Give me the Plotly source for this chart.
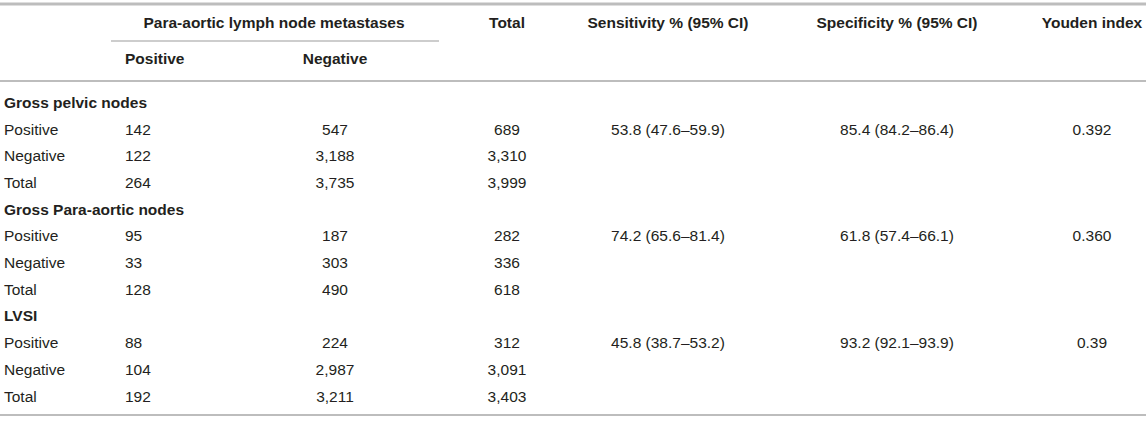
import plotly.graph_objects as go

# table contents
groups = ["Gross pelvic nodes", "Gross Para-aortic nodes", "LVSI"]
row_labels = ["Positive", "Negative", "Total"]
pos_counts = [[142, 122, 264], [95, 33, 128], [88, 104, 192]]
neg_counts = [[547, 3188, 3735], [187, 303, 490], [224, 2987, 3211]]
totals = [[689, 3310, 3999], [282, 336, 618], [312, 3091, 3403]]
sensitivity = ["53.8 (47.6–59.9)", "74.2 (65.6–81.4)", "45.8 (38.7–53.2)"]
specificity = ["85.4 (84.2–86.4)", "61.8 (57.4–66.1)", "93.2 (92.1–93.9)"]
youden = ["0.392", "0.360", "0.39"]

span_header = "Para-aortic lymph node metastases"
top_headers = ["Total", "Sensitivity % (95% CI)", "Specificity % (95% CI)", "Youden index"]
sub_headers = ["Positive", "Negative"]

W, H = 1146, 421
FONT = "Liberation Sans, Arial, Helvetica, sans-serif"
SIZE = 15.5
TXT = "#231f20"
LINE = "#bdbdbd"

# column anchors in pixels
col_label = 4
col_pos = 125
col_neg = 335
col_tot = 507
col_sens = 668
col_spec = 897
col_youd = 1092
span_mid = 274

# row positions
y_head1 = 24
y_head2 = 60
y_first = 104
pitch = 26.7

fig = go.Figure()


def add_text(xs, ys, texts, pos, bold=False):
    if bold:
        texts = ["<b>%s</b>" % t for t in texts]
    fig.add_trace(go.Scatter(
        x=xs, y=ys, text=texts, mode="text", textposition=pos,
        textfont=dict(family=FONT, size=SIZE, color=TXT),
        hoverinfo="skip", showlegend=False, cliponaxis=False,
    ))


# headers
add_text([span_mid], [y_head1], [span_header], "middle center", bold=True)
add_text([col_tot, col_sens, col_spec, col_youd], [y_head1] * 4, top_headers,
         "middle center", bold=True)
add_text([col_pos], [y_head2], [sub_headers[0]], "middle right", bold=True)
add_text([col_neg], [y_head2], [sub_headers[1]], "middle center", bold=True)

# body, one group after another
row = 0
for g, name in enumerate(groups):
    y0 = y_first + pitch * row
    add_text([col_label], [y0], [name], "middle right", bold=True)
    ys = [y_first + pitch * (row + k + 1) for k in range(3)]
    add_text([col_label] * 3, ys, row_labels, "middle right")
    add_text([col_pos] * 3, ys, ["{:,}".format(v) for v in pos_counts[g]], "middle right")
    add_text([col_neg] * 3, ys, ["{:,}".format(v) for v in neg_counts[g]], "middle center")
    add_text([col_tot] * 3, ys, ["{:,}".format(v) for v in totals[g]], "middle center")
    add_text([col_sens], [ys[0]], [sensitivity[g]], "middle center")
    add_text([col_spec], [ys[0]], [specificity[g]], "middle center")
    add_text([col_youd], [ys[0]], [youden[g]], "middle center")
    row += 4

# rules (drawn in paper space, measured from the top edge in pixels)
def hrule(x0, x1, ypx, width=2):
    fig.add_shape(type="line", xref="paper", yref="paper",
                  x0=x0 / W, x1=x1 / W, y0=1 - ypx / H, y1=1 - ypx / H,
                  line=dict(color=LINE, width=width), layer="above")


hrule(0, W, 4, width=3)
hrule(111, 439, 41, width=1.3)
hrule(0, W, 81)
hrule(0, W, 415)

fig.update_layout(
    width=W, height=H,
    margin=dict(l=0, r=0, t=0, b=0),
    paper_bgcolor="white", plot_bgcolor="white",
    xaxis=dict(range=[0, W], visible=False, fixedrange=True),
    yaxis=dict(range=[H, 0], visible=False, fixedrange=True),
)

# the page body has a default 8px margin; drop it so the table sits at 0,0
fig.write_html("out.html", config={"displayModeBar": False},
               post_script="document.body.style.margin='0';")
